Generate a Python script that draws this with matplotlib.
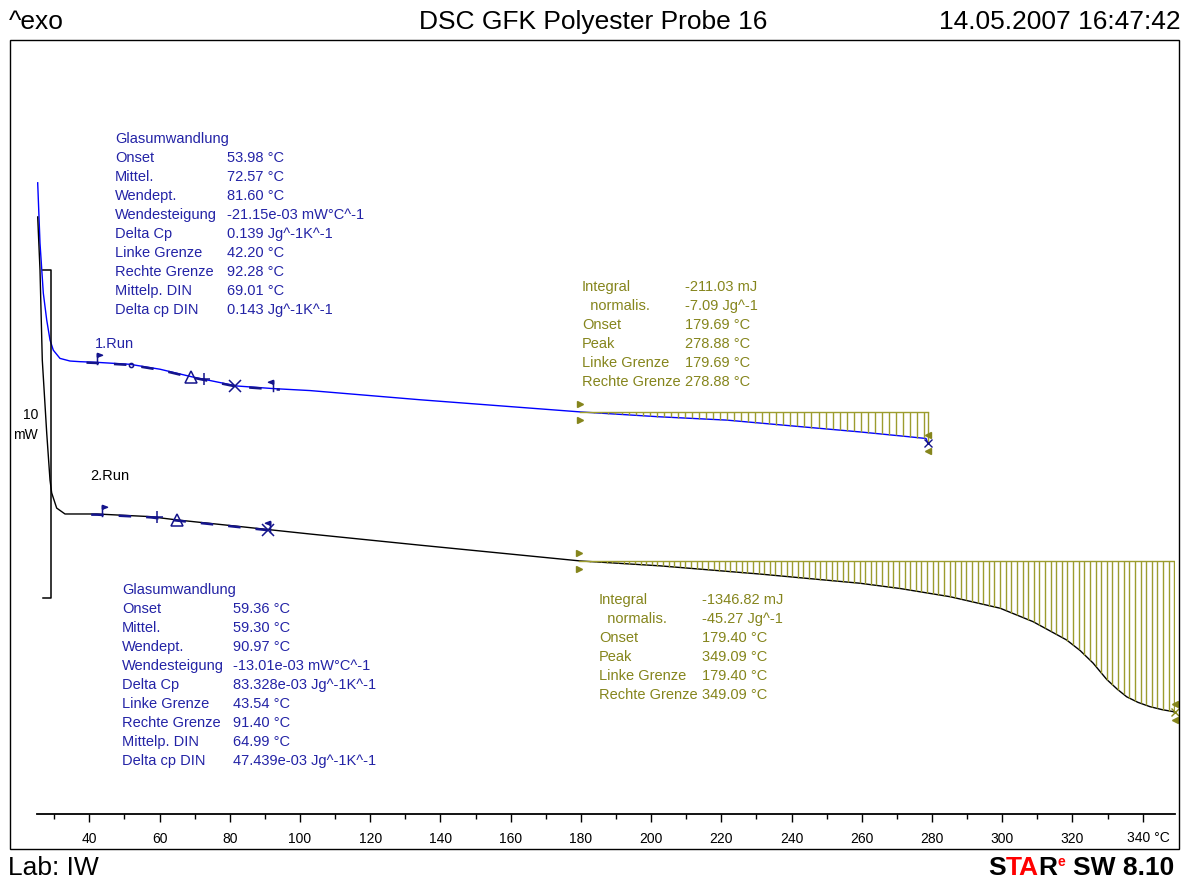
import numpy as np
import matplotlib
matplotlib.use('Agg')
import matplotlib.pyplot as plt
from matplotlib.path import Path
from matplotlib.patches import Rectangle

plt.rcParams['font.family'] = ['Liberation Sans', 'DejaVu Sans']

run1_T = [25.30, 25.96, 26.90, 27.87, 28.81, 29.75, 31.65, 34.50, 37.35, 42.11,
          51.59, 60.14, 69.17, 81.98, 92.41, 102.86, 134.19, 179.76, 202.55, 221.54,
          240.51, 259.51, 273.75, 278.30, 278.90]
run1_mW = [19.23, 17.39, 15.87, 15.05, 14.44, 14.13, 13.88, 13.80, 13.78, 13.76,
           13.70, 13.55, 13.32, 13.04, 12.96, 12.90, 12.62, 12.25, 12.10, 12.00,
           11.82, 11.64, 11.49, 11.44, 11.29]

run2_T = [25.30, 25.96, 26.61, 27.87, 28.81, 29.29, 30.71, 33.08, 37.35, 42.11,
          57.29, 64.89, 79.13, 90.53, 102.86, 134.19, 179.76, 202.55, 231.03, 259.51,
          270.90, 285.15, 299.39, 308.79, 318.38, 322.20, 325.87, 329.77, 332.80, 335.47,
          338.70, 342.10, 345.50, 348.65, 349.09]
run2_mW = [18.19, 16.57, 13.83, 11.61, 10.17, 9.78, 9.32, 9.14, 9.14, 9.14,
           9.06, 8.96, 8.80, 8.67, 8.53, 8.19, 7.71, 7.56, 7.31, 7.03,
           6.87, 6.62, 6.27, 5.86, 5.30, 4.98, 4.60, 4.10, 3.80, 3.57,
           3.40, 3.27, 3.18, 3.12, 3.10]

# Glasumwandlung: Grenzen und Kennpunkte
tg1_limits = [42.20, 92.28]
tg1_onset, tg1_mittel, tg1_wende, tg1_din = 53.98, 72.57, 81.60, 69.01
tg2_limits = [43.54, 91.40]
tg2_onset, tg2_mittel, tg2_wende, tg2_din = 59.36, 59.30, 90.97, 64.99

# Integrale
int1_limits = [179.69, 278.88]
int2_limits = [179.40, 349.09]

tg1_labels = ['Onset', 'Mittel.', 'Wendept.', 'Wendesteigung', 'Delta Cp', 'Linke Grenze',
              'Rechte Grenze', 'Mittelp. DIN', 'Delta cp DIN']
tg1_values = ['53.98 °C', '72.57 °C', '81.60 °C', '-21.15e-03 mW°C^-1', '0.139 Jg^-1K^-1',
              '42.20 °C', '92.28 °C', '69.01 °C', '0.143 Jg^-1K^-1']
tg2_values = ['59.36 °C', '59.30 °C', '90.97 °C', '-13.01e-03 mW°C^-1', '83.328e-03 Jg^-1K^-1',
              '43.54 °C', '91.40 °C', '64.99 °C', '47.439e-03 Jg^-1K^-1']
int_labels = ['Integral', '  normalis.', 'Onset', 'Peak', 'Linke Grenze', 'Rechte Grenze']
int1_values = ['-211.03 mJ', '-7.09 Jg^-1', '179.69 °C', '278.88 °C', '179.69 °C', '278.88 °C']
int2_values = ['-1346.82 mJ', '-45.27 Jg^-1', '179.40 °C', '349.09 °C', '179.40 °C', '349.09 °C']

x_major = list(range(40, 341, 20))
x_minor = list(range(30, 331, 20))
x_labels = [str(v) for v in x_major[:-1]] + ['']

W, H = 1190, 884
BLUE_TXT = '#2323a6'
NAVY = '#14148c'
OLIVE = '#85851c'
HATCH = '#9c9c2e'

fig = plt.figure(figsize=(W / 100, H / 100), dpi=100)


def fx(x):
    return x / W


def fy(y):
    return 1 - y / H


# Achse: Pixelbereich 37..1175 horizontal, 40..814 vertikal
ax = fig.add_axes([fx(37.3), fy(814), (1175 - 37.3) / W, (814 - 40) / H])
ax.set_xlim(25.19, 349.22)
ax.set_ylim(0, 23.58)
for s in ['top', 'left', 'right']:
    ax.spines[s].set_visible(False)
ax.spines['bottom'].set_linewidth(1.3)
ax.set_yticks([])
ax.set_xticks(x_major)
ax.set_xticklabels(x_labels, fontsize=10)
ax.set_xticks(x_minor, minor=True)
ax.tick_params(axis='x', which='major', direction='out', length=6, width=1, pad=7)
ax.tick_params(axis='x', which='minor', direction='out', length=3.5, width=1)
ax.patch.set_alpha(0)
# letzte Beschriftung mit Einheit
ax.annotate(str(x_major[-1]) + ' °C', xy=(x_major[-1], 0), xycoords=('data', 'axes fraction'),
            xytext=(-11, -17), textcoords='offset points', fontsize=10, ha='left', va='center')

# Kurven
ax.plot(run1_T, run1_mW, color='#0000ff', lw=1.0)
ax.plot(run2_T, run2_mW, color='black', lw=1.0)


def curve_at(T, xs, ys):
    return float(np.interp(T, xs, ys))


# Tangentenabschnitte im Glasübergang
for xs, ys, lim in [(run1_T, run1_mW, tg1_limits), (run2_T, run2_mW, tg2_limits)]:
    tt = np.linspace(lim[0] - 3, lim[1] + 2, 60)
    ax.plot(tt, np.interp(tt, xs, ys) - 0.02, color=NAVY, lw=1.8, dashes=(5, 6))

# Fahnen-Marker
flag_r = Path([(0, -0.3), (0, 1.0), (0, 1.0), (0.55, 0.8), (0, 0.6), (0, 1.0)],
              [Path.MOVETO, Path.LINETO, Path.MOVETO, Path.LINETO, Path.LINETO, Path.CLOSEPOLY])
flag_l = Path([(0, -0.3), (0, 1.0), (0, 1.0), (-0.55, 0.8), (0, 0.6), (0, 1.0)],
              [Path.MOVETO, Path.LINETO, Path.MOVETO, Path.LINETO, Path.LINETO, Path.CLOSEPOLY])


def mark(T, xs, ys, marker, size=8, fill='none'):
    ax.plot([T], [curve_at(T, xs, ys)], marker=marker, ms=size, mec=NAVY, mfc=fill,
            mew=1.1, ls='none', clip_on=False)


mark(tg1_limits[0], run1_T, run1_mW, flag_r, 13, NAVY)
mark(tg1_limits[1], run1_T, run1_mW, flag_l, 13, NAVY)
mark(tg1_onset - 2, run1_T, run1_mW, 'o', 3)
mark(tg1_din, run1_T, run1_mW, '^', 9)
mark(tg1_mittel, run1_T, run1_mW, '+', 9)
mark(tg1_wende, run1_T, run1_mW, 'x', 8)

mark(tg2_limits[0], run2_T, run2_mW, flag_r, 13, NAVY)
mark(tg2_limits[1], run2_T, run2_mW, flag_l, 13, NAVY)
mark(tg2_mittel, run2_T, run2_mW, '+', 9)
mark(tg2_din, run2_T, run2_mW, '^', 9)
mark(tg2_wende, run2_T, run2_mW, 'x', 8)

# Integralflächen mit senkrechter Schraffur
for xs, ys, lim, step in [(run1_T, run1_mW, int1_limits, 2.0), (run2_T, run2_mW, int2_limits, 1.6)]:
    base = curve_at(lim[0], xs, ys)
    ax.plot(lim, [base, base], color=HATCH, lw=1.0)
    tt = np.arange(lim[0] + step, lim[1] + 0.01, step)
    ax.vlines(tt, np.interp(tt, xs, ys), base, color=HATCH, lw=1.0)
    ax.vlines(lim[1], curve_at(lim[1], xs, ys), base, color=HATCH, lw=1.0)
    ax.plot([lim[0]], [base + 0.25], marker='>', ms=5, color=OLIVE, ls='none')
    ax.plot([lim[0]], [base - 0.25], marker='>', ms=5, color=OLIVE, ls='none')
    end = curve_at(lim[1], xs, ys)
    ax.plot([lim[1]], [end + 0.25], marker='<', ms=5, color=OLIVE, ls='none', clip_on=False)
    ax.plot([lim[1]], [end - 0.25], marker='<', ms=5, color=OLIVE, ls='none', clip_on=False)
    ax.plot([lim[1]], [end], marker='x', ms=6, mec=NAVY if xs is run1_T else OLIVE,
            ls='none', clip_on=False)

# Skalenbalken 10 mW
ax.plot([26.73, 29.0, 29.0, 26.73], [16.57, 16.57, 6.57, 6.57], color='black', lw=1.1, clip_on=False)
fig.text(fx(38), fy(415), '10', fontsize=10, ha='right', va='center')
fig.text(fx(38), fy(435), 'mW', fontsize=10, ha='right', va='center')

# Beschriftungen der Läufe
fig.text(fx(95), fy(344), '1.Run', fontsize=10.5, color=BLUE_TXT, va='center')
fig.text(fx(90), fy(476), '2.Run', fontsize=10.5, color='black', va='center')


def block(x1, x2, y0, title, labels, values, color):
    y = y0
    if title:
        fig.text(fx(x1), fy(y), title, fontsize=10.5, color=color, va='center')
        y += 19
    for lab, val in zip(labels, values):
        fig.text(fx(x1), fy(y), lab, fontsize=10.5, color=color, va='center')
        fig.text(fx(x2), fy(y), val, fontsize=10.5, color=color, va='center')
        y += 19


block(115, 227, 139, 'Glasumwandlung', tg1_labels, tg1_values, BLUE_TXT)
block(122, 233, 590, 'Glasumwandlung', tg1_labels, tg2_values, BLUE_TXT)
block(582, 685, 287, None, int_labels, int1_values, OLIVE)
block(599, 702, 600, None, int_labels, int2_values, OLIVE)

# Kopf- und Fußzeile
fig.text(fx(9), fy(22), '^exo', fontsize=19, va='center', ha='left')
fig.text(fx(593), fy(22), 'DSC GFK Polyester Probe 16', fontsize=19, va='center', ha='center')
fig.text(fx(1181), fy(22), '14.05.2007 16:47:42', fontsize=19, va='center', ha='right')
fig.text(fx(8), fy(868), 'Lab: IW', fontsize=19, va='center', ha='left')

t = fig.text(fx(988), fy(880), 'S', fontsize=19, weight='bold', va='bottom')
t = ax.annotate('TA', xy=(1, 0), xycoords=t, va='bottom', fontsize=19, weight='bold', color='#ff0000')
t = ax.annotate('R', xy=(1, 0), xycoords=t, va='bottom', fontsize=19, weight='bold', color='black')
ax.annotate('e', xy=(1, 1), xycoords=t, xytext=(0, 1), textcoords='offset points',
            va='top', fontsize=10, weight='bold', color='#ff0000')
ax.annotate('SW 8.10', xy=(1, 0), xycoords=t, xytext=(11, 0), textcoords='offset points',
            va='bottom', fontsize=19, weight='bold', color='black')

# Rahmen
fig.add_artist(Rectangle((fx(9.5), fy(849)), (1179 - 9.5) / W, (849 - 40) / H,
                         transform=fig.transFigure, fill=False, edgecolor='black', lw=1.0))

fig.savefig('out.png', dpi=100, facecolor='white')
